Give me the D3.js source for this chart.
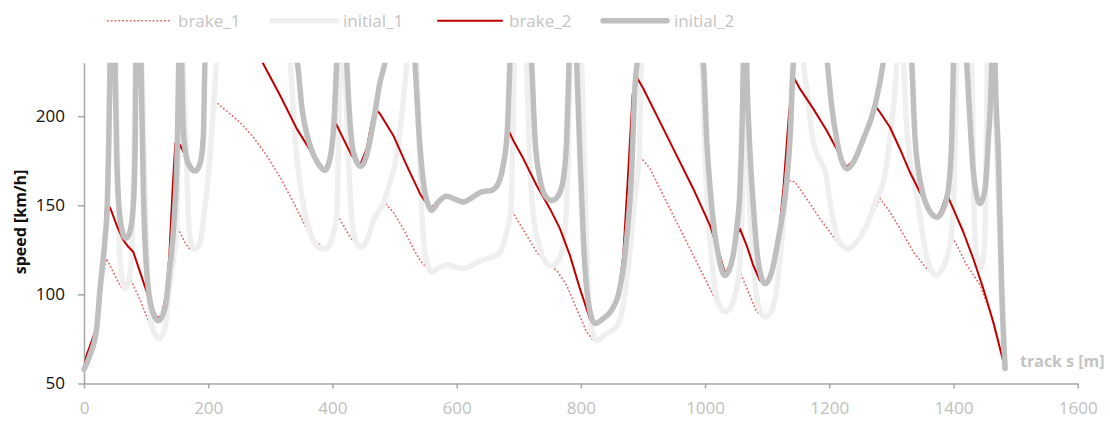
<!DOCTYPE html>
<html>
<head>
<meta charset="utf-8">
<script src="https://cdn.jsdelivr.net/npm/d3@7"></script>
<style>
  html, body { margin: 0; padding: 0; background: #ffffff; }
  svg { display: block; }
  text { font-family: "Open Sans", "DejaVu Sans", sans-serif; }
</style>
</head>
<body>
<svg id="chart" width="1110" height="421"></svg>
<script>
// ---------------- data ----------------
const seriesNames = ["brake_1", "initial_1", "brake_2", "initial_2"];
const xTicks = [0, 200, 400, 600, 800, 1000, 1200, 1400, 1600];
const yTicks = [50, 100, 150, 200];
const xTitle = "track s [m]";
const yTitle = "speed [km/h]";

// [track s (m), speed (km/h)] ; values above 230 are off-chart estimates
const initial_2 = [
  [0,58],[9.7,66],[20.4,81],[25.8,103],[33.8,131],[37.5,150],[39.5,178],[41.9,230],[46,300],
  [49.9,230],[52.6,178],[56.9,146.6],[63.3,133.5],[67.6,131.5],[74.1,135.3],[79.4,150.3],[82.1,178],[83.7,230],[88,300],
  [91.8,230],[95.5,159.5],[100.9,112.7],[108.9,92.2],[119.7,85.2],[130.4,92.2],[137.4,112.7],[144.9,140.7],[150.3,184.7],[152.5,230],[155,300],
  [157.3,230],[161,186.3],[168,173.3],[178.7,169.2],[186.8,173.3],[192.2,188.2],[194.9,230],[270,300],
  [343.5,230],[350.5,205.9],[363.9,183.5],[377.3,173.2],[388,169.5],[396,176],[402.5,196.6],[406.8,230],[415,300],
  [423,230],[428.3,196.6],[433.7,179.8],[446,171.8],[455.2,178],[465.9,196.6],[476.6,219],[484.6,230],[510,300],
  [533,230],[538.3,196.6],[546.4,163],[554.4,150],[559.8,147.2],[570.5,151.8],[583.9,155],[597.3,153.4],[610.7,151.9],[626.8,154.7],[640.2,157.5],[656.3,158.4],[667,162.2],[675,172.4],[681.5,191.1],[685.8,230],[703,300],
  [720.8,230],[726.2,187.2],[734.2,164.8],[742.3,155.5],[753,152.7],[763.8,155.5],[771.8,164.8],[777.2,187.2],[780.9,230],[787,300],
  [793.3,230],[798.6,178],[804,131.3],[812,95.8],[822.7,83.7],[836.1,86.5],[849.5,91.2],[860.2,99.6],[871,122],[881.7,168.7],[887,215.5],[890.7,230],[944,300],
  [997.2,230],[1002.6,187.2],[1010.6,149.8],[1021.4,121.8],[1032.1,110.6],[1042.8,118.1],[1050.9,136.7],[1056.2,159.2],[1061.6,230],[1064,300],
  [1067,230],[1071.3,187.2],[1077.7,149.8],[1085.8,118.1],[1096.5,106],[1107.3,112.5],[1118,131.2],[1128.8,155],[1136.8,187.2],[1142.2,230],[1170,300],
  [1196.9,230],[1203.8,205.9],[1211.9,187.2],[1219.9,175],[1229,170.4],[1238.7,174.1],[1254.8,187.2],[1273.6,205.9],[1287,230],[1310,300],
  [1332.8,230],[1338.2,187.2],[1348.9,159.2],[1359.6,148],[1374.1,143.3],[1383.8,148],[1391.8,159.2],[1397.2,187.2],[1399.9,230],[1410,300],
  [1421.3,230],[1426.7,196.6],[1432,168.6],[1442.8,150.9],[1450.9,159.2],[1456.2,187.2],[1461.6,230],[1464,300],
  [1466.9,230],[1472.3,178],[1477.7,103.3],[1483,58.5]
];

const initial_1 = [
  [0,58],[9.7,66],[20.4,81],[25.8,103],[33.8,131],[37.5,150],[39.5,178],[41.9,230],[47,300],
  [51,230],[54,178],[57.4,121.7],[62.2,106.7],[66,103.4],[71.4,106.7],[76.8,121.7],[80.5,178],[82.7,230],[88,300],
  [92.9,230],[98.2,159.5],[103.6,103.4],[110.6,80.9],[120.8,75.3],[130.4,80.9],[137.4,103.4],[144.9,122],[149.2,137.8],[152.5,196.6],[154.6,230],[157,300],
  [159.9,230],[164.2,187.2],[168,144.2],[172.2,129.2],[178.7,125.5],[186.8,129.2],[193.2,144.2],[202.9,178],[209.3,208.8],[213.6,230],[270,300],
  [331.7,230],[339.8,187.2],[350.5,155.4],[363.9,134.9],[377.3,126.5],[388,125.5],[397.2,129.2],[406.8,144.2],[410,187],[412.2,230],[416,300],
  [420.3,230],[425.7,178],[431,144.2],[438,129.2],[446.1,126.5],[455.2,130.2],[465.9,141.5],[483,151.8],[492.7,163],[503.5,178],[513.2,206],[519.6,230],[528,300],
  [535.7,230],[540,178],[545.4,136.9],[551.8,118.2],[559.8,112.6],[570.5,114.5],[583.9,116.7],[597.3,115.4],[610.7,114.5],[626.8,116.7],[640.2,119.2],[659,121],[669.7,123.8],[680.4,135],[687.4,148.1],[690,178],[692.7,230],[703,300],
  [712.8,230],[717.1,178],[723.5,144.4],[731.6,129.4],[739.6,120.1],[753,116],[763.8,119.2],[770.7,125.7],[776.1,144.4],[779.8,178],[782.5,230],[792,300],
  [801.3,230],[806.7,159.2],[812,103.2],[817.4,80.8],[825.4,74.3],[841.5,78],[857.6,82],[866,90],[874,108],[882,135],[889,160],[894,178],[897.5,230],[945,300],
  [994.5,230],[999.9,178],[1007.9,131.3],[1016,103.2],[1024,93],[1032.1,90.2],[1040.1,92],[1048.2,100],[1054,110],[1058.5,135],[1061,175],[1062.5,230],[1064,290],
  [1065.5,230],[1069.7,168.6],[1077.7,118.1],[1085.8,93.8],[1096.5,87.3],[1107.3,91],[1115.3,103.2],[1123.3,129.4],[1131.4,164],[1136.8,196.6],[1141.1,230],[1150,300],
  [1158.3,230],[1163.6,215.3],[1171.7,191],[1179.7,179],[1187,174],[1195,167],[1201.2,152],[1212,133.1],[1220,127.5],[1230.8,125.6],[1244.2,129.4],[1260.3,138.7],[1276.4,153.7],[1287.1,163],[1300.5,196.6],[1308.6,230],[1314,300],
  [1320,230],[1325,192],[1341,155],[1357,121],[1372,110.8],[1386,117.4],[1397,134],[1402,173.5],[1405,230],[1417,300],
  [1429.2,230],[1431.9,178],[1434,136],[1438,121],[1443.5,115],[1448,120],[1450.7,136],[1452.5,178],[1454.5,230],[1459,300],
  [1463,230],[1470,178],[1477,103],[1483,58.5]
];

const brake_2 = [
  [0,59],[4.3,66],[17.7,79],[25.8,94],[31.1,118.5],[35.4,149.2],[38,151],[43,147.8],[52.6,138.8],[63.3,130.4],[71.4,126.7],[79.4,123.8],[90.2,112.6],[100.9,101.4],[108.9,93],[118,86.5],
  [125,88.3],[132,99.5],[137.4,121.9],[142.7,159.3],[147,184.7],[149.2,185.3],[154.6,183.8],[165.3,176.3],[178.7,168.8],[186.8,172.6],[192.2,196.9],[195.4,230],[240,290],
  [287.7,230],[315.6,211.7],[342.5,193],[369.3,178],[388,169.6],[396,178],[401.4,191.1],[405.7,195.8],[417.5,187.4],[430.9,178],[444.4,172.4],[455.2,181.8],[463.2,196.7],[468.6,204.2],
  [476.6,201.4],[498,189.2],[519.5,172.4],[541,156.5],[557.1,148.2],[570.5,151.8],[583.9,155],[597.3,153.4],[610.7,151.9],[626.8,154.7],[640.2,157.5],[656.3,158.4],[667,162.2],[675,176.2],[681.5,190.2],[684.7,191.1],
  [691.2,186.4],[707.3,176.2],[728.7,161.2],[750.2,148.1],[766.3,136.9],[782.4,121.9],[798.5,103.2],[814.6,86.4],[822.7,83.6],[836.1,86.5],[849.5,91.2],[860.2,99.6],[868.3,121.9],[876.3,168.6],[883.3,211.7],[889.8,222],
  [900.5,215.5],[927.4,196.8],[954.2,178],[981,159.3],[1007.9,138.7],[1024,121.9],[1032.1,111.6],[1042.8,118.1],[1050.9,133],[1056.2,136.7],
  [1067,127.4],[1077.7,116.2],[1088.4,107.8],[1096.5,106],[1107.3,112.5],[1118,131.2],[1126.1,159.2],[1134.1,196.6],[1141.1,222.8],
  [1152.9,215.3],[1174.4,204.1],[1195.8,192],[1217.3,178],[1228,171.4],[1238.7,175.1],[1254.8,188.2],[1273.6,205.9],
  [1281.6,202.2],[1297.7,193.8],[1313.8,181.6],[1329.9,168.5],[1346,157.3],[1362.1,147.1],[1373.9,143.3],[1380.9,148],[1389,156.4],
  [1399.7,148],[1415.8,135],[1431.9,120],[1448,103.2],[1464.1,84.5],[1474.9,69.6],[1482.9,58.4]
];

const brake_1 = [
  [0,58],[9.7,66],[20.4,81],[27,100],[32,112],[36,120],[43,115.4],[52,109],[60.7,103.6],[66,103.4],[73.5,108],[76.8,107.1],[90.2,97],[100.9,87.5],[111.6,79.1],[120.8,75.3],
  [130.4,80.9],[137.4,103.4],[144.9,122],[150.5,138.5],[154.6,134.6],[162.7,129],[170.7,125.3],[178.7,124.7],[186.8,129.2],[193.2,144.2],[202.9,178],[209.3,208.8],
  [218.9,206],[235,201.3],[251.1,196.6],[272.6,188.2],[294,178],[315.6,165.9],[337,151.8],[358.5,136.9],[374.6,129.4],[388,125.3],[397.2,129.2],[408,144.4],
  [417.5,138.8],[428.3,132.3],[439,127.5],[446,126],[455.2,130.2],[465.9,141.5],[483,151.8],[498,146.2],[514.1,136.9],[530.2,125.7],[541,119.2],[557.1,112.6],
  [570.5,114.5],[583.9,116.7],[597.3,115.4],[610.7,114.5],[626.8,116.7],[640.2,119.2],[659,121],[669.7,123.8],[680.4,135],[687.4,148.1],
  [696.6,142.5],[712.7,133.1],[728.8,123.8],[744.9,117.2],[761,113.5],[777.1,105.1],[793.2,92],[809.3,78.9],[820.1,74.2],[825.4,73.9],
  [841.5,78],[857.6,82],[866,90],[874,108],[882,135],[889,160],[894,178],
  [911.2,170.6],[932.7,155.6],[954.2,140.6],[975.7,125.7],[997.1,110.7],[1013.2,99.5],[1024,92],[1032.1,90.2],[1040.1,92],[1048.2,100],[1054,110],[1056.3,112.6],
  [1069.7,101.4],[1083.1,90.2],[1096.5,87.3],[1107.3,91],[1115.3,103.2],[1123.3,129.4],[1131.4,164],
  [1144.7,163.1],[1163.5,153.7],[1185,142.5],[1201.1,135],[1217.2,127.5],[1230.8,125.6],[1244.2,129.4],[1260.3,138.7],[1276.4,150],[1281.8,153.7],
  [1297.9,146.2],[1314,136.9],[1335.4,123.8],[1356.9,114.4],[1374.1,110.7],[1386,117.4],[1397,132.5],
  [1405,127.8],[1421.1,116.6],[1442.6,105.4],[1458.7,90.4],[1472.1,73.6],[1482.9,58.4]
];

// ---------------- chart ----------------
const plot = { left: 84, right: 1077.7, top: 62.7, bottom: 383.5 };

const svg = d3.select("#chart");
const x = d3.scaleLinear().domain([0, 1600]).range([plot.left, plot.right]);
const y = d3.scaleLinear().domain([50, 230]).range([plot.bottom, plot.top]);

svg.append("defs").append("clipPath").attr("id", "plotclip")
  .append("rect")
  .attr("x", plot.left - 6).attr("y", plot.top)
  .attr("width", plot.right - plot.left + 12).attr("height", plot.bottom - plot.top + 10);

const styles = {
  brake_1:   { stroke: "#e06868", width: 1.6, dash: "1.8,2", curve: d3.curveLinear, cap: "butt" },
  initial_1: { stroke: "#efefef", width: 5.5, dash: null, curve: d3.curveMonotoneX, cap: "round" },
  brake_2:   { stroke: "#c00000", width: 2,   dash: null, curve: d3.curveLinear, cap: "round" },
  initial_2: { stroke: "#bfbfbf", width: 5.5, dash: null, curve: d3.curveMonotoneX, cap: "round" }
};
const dataBy = { brake_1, initial_1, brake_2, initial_2 };

// axes
const xAxis = d3.axisBottom(x).tickValues(xTicks).tickSize(5).tickSizeOuter(0).tickPadding(13)
  .tickFormat(d3.format("d"));
const yAxis = d3.axisLeft(y).tickValues(yTicks).tickSize(6).tickSizeOuter(0).tickPadding(13)
  .tickFormat(d3.format("d"));

const gx = svg.append("g").attr("transform", `translate(0,${plot.bottom})`).call(xAxis);
gx.select(".domain").attr("stroke", "#a6a6a6").attr("stroke-width", 1.5);
gx.selectAll(".tick line").attr("stroke", "#a6a6a6").attr("stroke-width", 1.5);
gx.selectAll(".tick text").attr("fill", "#bfbfbf").style("font-size", "17px")
  .style("font-family", '"Open Sans", sans-serif');

const gy = svg.append("g").attr("transform", `translate(${plot.left},0)`).call(yAxis);
gy.select(".domain").attr("stroke", "#a6a6a6").attr("stroke-width", 1.5);
gy.selectAll(".tick line").attr("stroke", "#a6a6a6").attr("stroke-width", 1.5);
gy.selectAll(".tick text").attr("fill", "#111111").style("font-size", "17px")
  .style("font-family", '"Open Sans", sans-serif');

// series
const gLines = svg.append("g").attr("clip-path", "url(#plotclip)");
seriesNames.forEach(name => {
  const st = styles[name];
  const line = d3.line().x(d => x(d[0])).y(d => y(d[1])).curve(st.curve);
  gLines.append("path")
    .datum(dataBy[name])
    .attr("d", line)
    .attr("fill", "none")
    .attr("stroke", st.stroke)
    .attr("stroke-width", st.width)
    .attr("stroke-linejoin", "round")
    .attr("stroke-linecap", st.cap)
    .attr("stroke-dasharray", st.dash);
});

// axis titles
svg.append("text")
  .attr("transform", `translate(20,222) rotate(-90)`)
  .attr("text-anchor", "middle")
  .attr("dominant-baseline", "central")
  .attr("fill", "#111111")
  .style("font-size", "16px").style("font-weight", "bold")
  .text(yTitle);

svg.append("text")
  .attr("x", 1020).attr("y", 367)
  .attr("fill", "#c4c4c4")
  .style("font-size", "16px").style("font-weight", "bold")
  .text(xTitle);

// legend
const legendX = [107, 272, 438, 603];
const legend = svg.append("g");
seriesNames.forEach((name, i) => {
  const st = styles[name];
  const g = legend.append("g").attr("transform", `translate(${legendX[i]},20.7)`);
  g.append("line")
    .attr("x1", 0).attr("x2", 64).attr("y1", 0).attr("y2", 0)
    .attr("stroke", st.stroke).attr("stroke-width", st.width)
    .attr("stroke-linecap", st.cap).attr("stroke-dasharray", st.dash);
  g.append("text")
    .attr("x", 71).attr("y", 5.8)
    .attr("fill", "#c4c4c4")
    .style("font-size", "17px")
    .text(name);
});
</script>
</body>
</html>
